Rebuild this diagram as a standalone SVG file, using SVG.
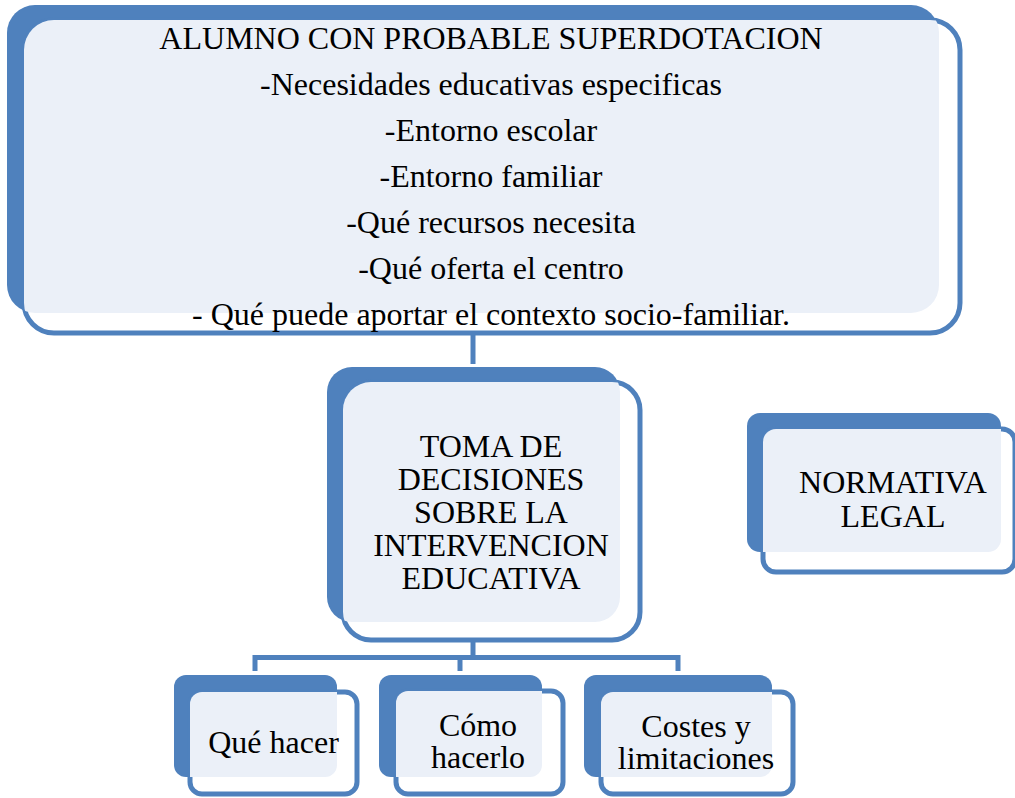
<svg xmlns="http://www.w3.org/2000/svg" width="1015" height="798" viewBox="0 0 1015 798">
<style>
.back{fill:#4F81BD}
.front{fill:#FFFFFF;stroke:#4F81BD;stroke-width:5}
.inner{fill:#EBF0F8}
.conn{fill:none;stroke:#4F81BD;stroke-width:5}
text{font-family:'Liberation Serif',serif;font-size:32px;fill:#000000;text-anchor:middle}
</style>
<defs>
<clipPath id="c0"><rect x="24" y="20" width="936" height="313" rx="30"/></clipPath>
<clipPath id="c1"><rect x="343" y="382" width="297" height="258" rx="28"/></clipPath>
<clipPath id="c2"><rect x="763" y="429" width="252" height="143" rx="13"/></clipPath>
<clipPath id="c3"><rect x="190" y="692" width="167" height="102" rx="12"/></clipPath>
<clipPath id="c4"><rect x="396" y="691" width="167" height="103" rx="12"/></clipPath>
<clipPath id="c5"><rect x="601" y="692" width="192" height="102" rx="12"/></clipPath>
</defs>
<g id="connectors">
<line class="conn" x1="473" y1="333" x2="473" y2="364"/>
<line class="conn" x1="473" y1="628" x2="473" y2="658"/>
<polyline class="conn" points="255,671 255,657.5 678,657.5 678,671"/>
<line class="conn" x1="460" y1="657.5" x2="460" y2="671"/>
</g>
<g id="node-alumno" font-family="Liberation Serif, serif">
<rect class="back" x="7" y="5" width="932" height="308" rx="28"/>
<rect class="front" x="24" y="20" width="936" height="313" rx="30"/>
<rect class="inner" x="7" y="5" width="932" height="308" rx="28" clip-path="url(#c0)"/>
<text x="491" y="49">ALUMNO CON PROBABLE SUPERDOTACION</text>
<text x="491" y="95">-Necesidades educativas especificas</text>
<text x="491" y="141">-Entorno escolar</text>
<text x="491" y="187">-Entorno familiar</text>
<text x="491" y="233">-Qué recursos necesita</text>
<text x="491" y="279">-Qué oferta el centro</text>
<text x="491" y="325">- Qué puede aportar el contexto socio-familiar.</text>
</g>
<g id="node-toma" font-family="Liberation Serif, serif">
<rect class="back" x="327" y="367" width="293" height="255" rx="25"/>
<rect class="front" x="343" y="382" width="297" height="258" rx="28"/>
<rect class="inner" x="327" y="367" width="293" height="255" rx="25" clip-path="url(#c1)"/>
<text x="491" y="457">TOMA DE</text>
<text x="491" y="490">DECISIONES</text>
<text x="491" y="523">SOBRE LA</text>
<text x="491" y="556">INTERVENCION</text>
<text x="491" y="589">EDUCATIVA</text>
</g>
<g id="node-normativa" font-family="Liberation Serif, serif">
<rect class="back" x="747" y="413" width="254" height="139" rx="13"/>
<rect class="front" x="763" y="429" width="252" height="143" rx="13"/>
<rect class="inner" x="747" y="413" width="254" height="139" rx="13" clip-path="url(#c2)"/>
<text x="893" y="493">NORMATIVA</text>
<text x="893" y="527">LEGAL</text>
</g>
<g id="node-que" font-family="Liberation Serif, serif">
<rect class="back" x="174" y="675" width="163" height="102" rx="12"/>
<rect class="front" x="190" y="692" width="167" height="102" rx="12"/>
<rect class="inner" x="174" y="675" width="163" height="102" rx="12" clip-path="url(#c3)"/>
<text x="273.5" y="753">Qué hacer</text>
</g>
<g id="node-como" font-family="Liberation Serif, serif">
<rect class="back" x="379" y="675" width="163" height="102" rx="12"/>
<rect class="front" x="396" y="691" width="167" height="103" rx="12"/>
<rect class="inner" x="379" y="675" width="163" height="102" rx="12" clip-path="url(#c4)"/>
<text x="478" y="736">Cómo</text>
<text x="478" y="768">hacerlo</text>
</g>
<g id="node-costes" font-family="Liberation Serif, serif">
<rect class="back" x="584" y="675" width="188" height="102" rx="12"/>
<rect class="front" x="601" y="692" width="192" height="102" rx="12"/>
<rect class="inner" x="584" y="675" width="188" height="102" rx="12" clip-path="url(#c5)"/>
<text x="696" y="737">Costes y</text>
<text x="696" y="769">limitaciones</text>
</g>
</svg>
